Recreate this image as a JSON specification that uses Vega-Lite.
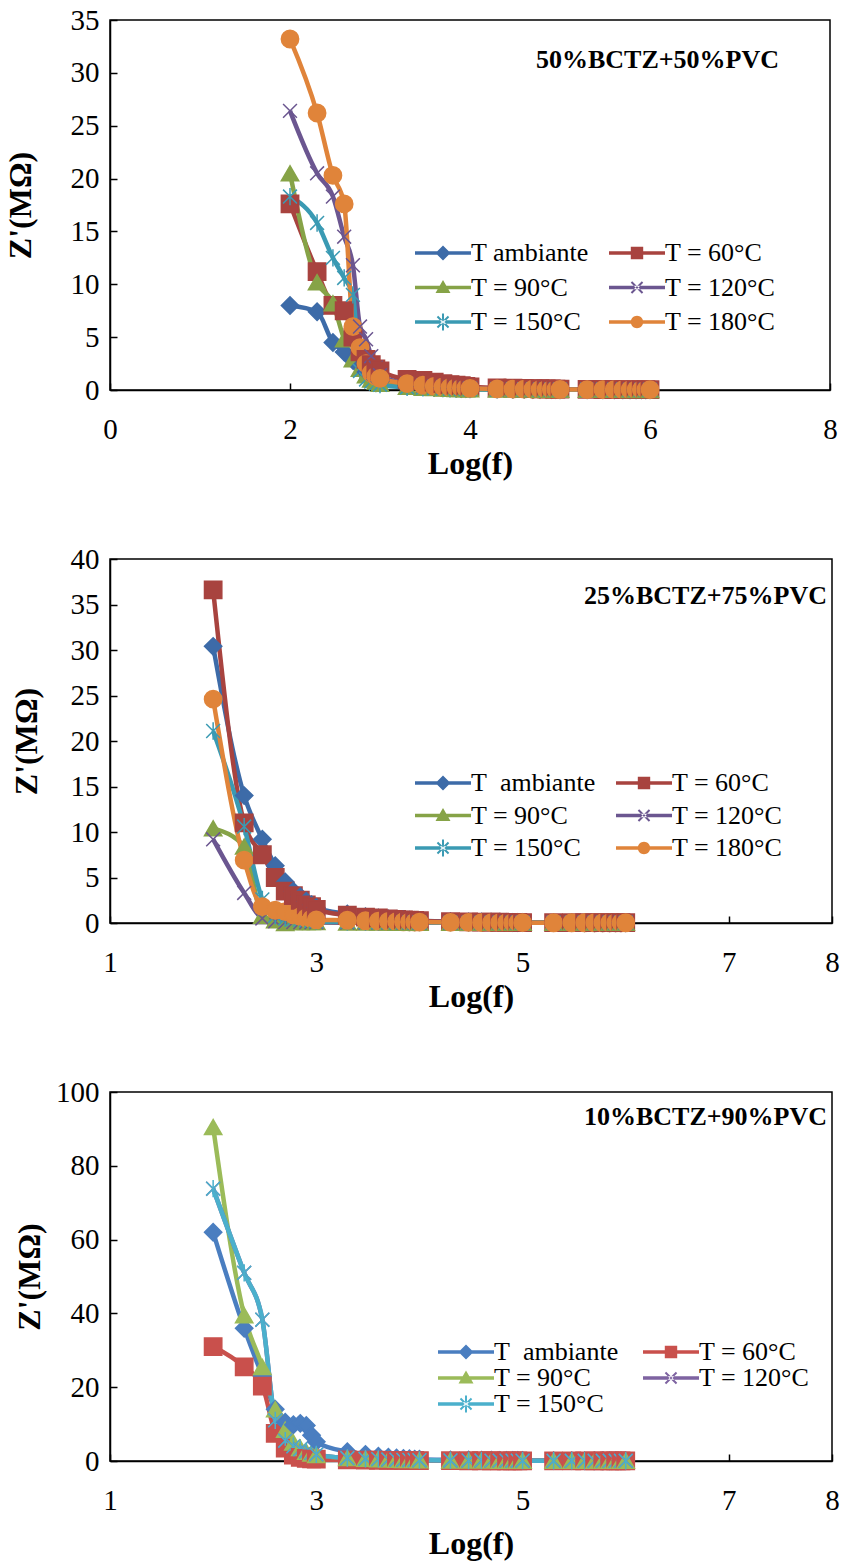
{
"$schema": "https://vega.github.io/schema/vega-lite/v6.json",
"padding": {"left": 3, "top": 5, "right": 2, "bottom": 5},
"background": "white",
"bounds": "flush",
"spacing": 169,
"config": {
  "font": "Liberation Serif",
  "view": {"stroke": "black", "strokeWidth": 1.5},
  "axis": {"labelFont": "Liberation Serif", "labelFontSize": 29, "labelColor": "black", "titleFont": "Liberation Serif", "titleFontSize": 32, "titleFontWeight": "bold", "titleColor": "black", "domainColor": "black", "domainWidth": 1.5, "tickColor": "black", "tickWidth": 1.5, "tickSize": -7, "grid": false, "labelFlush": false, "labelOverlap": false},
  "axisX": {"labelPadding": 32},
  "axisY": {"labelPadding": 18},
  "title": {"font": "Liberation Serif", "fontSize": 26, "fontWeight": "bold", "color": "black"},
  "legend": {"labelFont": "Liberation Serif", "labelFontSize": 26, "labelColor": "black", "symbolSize": 400, "symbolStrokeWidth": 0, "symbolOpacity": 1, "symbolOffset": 18, "title": null, "padding": 0, "labelOffset": 15, "orient": "none", "columns": 2}
},
"datasets": {
"p1": [
{"f":2,"T ambiante":8.0,"T = 60°C":17.6,"T = 90°C":20.5,"T = 120°C":26.4,"T = 150°C":18.3,"T = 180°C":33.2},
{"f":2.301,"T ambiante":7.4,"T = 60°C":11.2,"T = 90°C":10.2,"T = 120°C":20.5,"T = 150°C":15.8,"T = 180°C":26.2},
{"f":2.477,"T ambiante":4.5,"T = 60°C":8.0,"T = 90°C":8.2,"T = 120°C":18.3,"T = 150°C":12.5,"T = 180°C":20.3},
{"f":2.602,"T ambiante":3.6,"T = 60°C":7.5,"T = 90°C":4.8,"T = 120°C":14.5,"T = 150°C":10.6,"T = 180°C":17.6},
{"f":2.699,"T ambiante":2.8,"T = 60°C":5.0,"T = 90°C":2.9,"T = 120°C":11.8,"T = 150°C":9.0,"T = 180°C":6.0},
{"f":2.778,"T ambiante":2.2,"T = 60°C":3.6,"T = 90°C":2.0,"T = 120°C":6.0,"T = 150°C":1.8,"T = 180°C":4.0},
{"f":2.845,"T ambiante":1.7,"T = 60°C":2.9,"T = 90°C":1.4,"T = 120°C":4.8,"T = 150°C":1.0,"T = 180°C":2.5},
{"f":2.903,"T ambiante":1.3,"T = 60°C":2.4,"T = 90°C":1.0,"T = 120°C":3.2,"T = 150°C":0.8,"T = 180°C":1.6},
{"f":2.954,"T ambiante":1.0,"T = 60°C":2.0,"T = 90°C":0.8,"T = 120°C":2.1,"T = 150°C":0.6,"T = 180°C":1.3},
{"f":3,"T ambiante":0.8,"T = 60°C":1.8,"T = 90°C":0.6,"T = 120°C":1.4,"T = 150°C":0.5,"T = 180°C":1.1},
{"f":3.301,"T ambiante":0.45,"T = 60°C":1.0,"T = 90°C":0.3,"T = 120°C":0.6,"T = 150°C":0.25,"T = 180°C":0.6},
{"f":3.477,"T ambiante":0.35,"T = 60°C":0.9,"T = 90°C":0.22,"T = 120°C":0.45,"T = 150°C":0.2,"T = 180°C":0.45},
{"f":3.602,"T ambiante":0.28,"T = 60°C":0.75,"T = 90°C":0.18,"T = 120°C":0.35,"T = 150°C":0.16,"T = 180°C":0.35},
{"f":3.699,"T ambiante":0.23,"T = 60°C":0.6,"T = 90°C":0.15,"T = 120°C":0.3,"T = 150°C":0.13,"T = 180°C":0.3},
{"f":3.778,"T ambiante":0.2,"T = 60°C":0.5,"T = 90°C":0.12,"T = 120°C":0.25,"T = 150°C":0.11,"T = 180°C":0.25},
{"f":3.845,"T ambiante":0.17,"T = 60°C":0.45,"T = 90°C":0.1,"T = 120°C":0.22,"T = 150°C":0.1,"T = 180°C":0.22},
{"f":3.903,"T ambiante":0.15,"T = 60°C":0.4,"T = 90°C":0.09,"T = 120°C":0.2,"T = 150°C":0.09,"T = 180°C":0.2},
{"f":3.954,"T ambiante":0.13,"T = 60°C":0.35,"T = 90°C":0.08,"T = 120°C":0.18,"T = 150°C":0.08,"T = 180°C":0.18},
{"f":4,"T ambiante":0.12,"T = 60°C":0.3,"T = 90°C":0.07,"T = 120°C":0.16,"T = 150°C":0.07,"T = 180°C":0.16},
{"f":4.301,"T ambiante":0.08,"T = 60°C":0.2,"T = 90°C":0.05,"T = 120°C":0.1,"T = 150°C":0.05,"T = 180°C":0.1},
{"f":4.477,"T ambiante":0.07,"T = 60°C":0.17,"T = 90°C":0.05,"T = 120°C":0.09,"T = 150°C":0.05,"T = 180°C":0.09},
{"f":4.602,"T ambiante":0.06,"T = 60°C":0.15,"T = 90°C":0.04,"T = 120°C":0.08,"T = 150°C":0.04,"T = 180°C":0.08},
{"f":4.699,"T ambiante":0.05,"T = 60°C":0.13,"T = 90°C":0.04,"T = 120°C":0.07,"T = 150°C":0.04,"T = 180°C":0.07},
{"f":4.778,"T ambiante":0.05,"T = 60°C":0.12,"T = 90°C":0.03,"T = 120°C":0.06,"T = 150°C":0.03,"T = 180°C":0.06},
{"f":4.845,"T ambiante":0.04,"T = 60°C":0.11,"T = 90°C":0.03,"T = 120°C":0.06,"T = 150°C":0.03,"T = 180°C":0.06},
{"f":4.903,"T ambiante":0.04,"T = 60°C":0.1,"T = 90°C":0.03,"T = 120°C":0.05,"T = 150°C":0.03,"T = 180°C":0.05},
{"f":4.954,"T ambiante":0.04,"T = 60°C":0.09,"T = 90°C":0.03,"T = 120°C":0.05,"T = 150°C":0.03,"T = 180°C":0.05},
{"f":5,"T ambiante":0.03,"T = 60°C":0.08,"T = 90°C":0.02,"T = 120°C":0.05,"T = 150°C":0.02,"T = 180°C":0.05},
{"f":5.301,"T ambiante":0.03,"T = 60°C":0.06,"T = 90°C":0.02,"T = 120°C":0.04,"T = 150°C":0.02,"T = 180°C":0.04},
{"f":5.477,"T ambiante":0.02,"T = 60°C":0.05,"T = 90°C":0.02,"T = 120°C":0.04,"T = 150°C":0.02,"T = 180°C":0.04},
{"f":5.602,"T ambiante":0.02,"T = 60°C":0.05,"T = 90°C":0.02,"T = 120°C":0.03,"T = 150°C":0.02,"T = 180°C":0.03},
{"f":5.699,"T ambiante":0.02,"T = 60°C":0.04,"T = 90°C":0.02,"T = 120°C":0.03,"T = 150°C":0.02,"T = 180°C":0.03},
{"f":5.778,"T ambiante":0.02,"T = 60°C":0.04,"T = 90°C":0.01,"T = 120°C":0.03,"T = 150°C":0.01,"T = 180°C":0.03},
{"f":5.845,"T ambiante":0.01,"T = 60°C":0.03,"T = 90°C":0.01,"T = 120°C":0.03,"T = 150°C":0.01,"T = 180°C":0.03},
{"f":5.903,"T ambiante":0.01,"T = 60°C":0.03,"T = 90°C":0.01,"T = 120°C":0.03,"T = 150°C":0.01,"T = 180°C":0.03},
{"f":5.954,"T ambiante":0.01,"T = 60°C":0.03,"T = 90°C":0.01,"T = 120°C":0.03,"T = 150°C":0.01,"T = 180°C":0.03},
{"f":6,"T ambiante":0.01,"T = 60°C":0.03,"T = 90°C":0.01,"T = 120°C":0.03,"T = 150°C":0.01,"T = 180°C":0.03}
],
"p2": [
{"f":2,"T ambiante":30.4,"T = 60°C":36.6,"T = 90°C":10.4,"T = 120°C":9.2,"T = 150°C":21.1,"T = 180°C":24.6},
{"f":2.301,"T ambiante":14.0,"T = 60°C":11.0,"T = 90°C":8.4,"T = 120°C":3.3,"T = 150°C":10.6,"T = 180°C":6.9},
{"f":2.477,"T ambiante":9.2,"T = 60°C":7.5,"T = 90°C":0.8,"T = 120°C":0.5,"T = 150°C":2.6,"T = 180°C":1.8},
{"f":2.602,"T ambiante":6.3,"T = 60°C":5.0,"T = 90°C":0.3,"T = 120°C":0.2,"T = 150°C":0.8,"T = 180°C":1.4},
{"f":2.699,"T ambiante":4.5,"T = 60°C":3.5,"T = 90°C":0.0,"T = 120°C":0.1,"T = 150°C":0.5,"T = 180°C":1.25},
{"f":2.778,"T ambiante":3.5,"T = 60°C":3.0,"T = 90°C":0.1,"T = 120°C":0.1,"T = 150°C":0.4,"T = 180°C":0.9},
{"f":2.845,"T ambiante":2.9,"T = 60°C":2.5,"T = 90°C":0.1,"T = 120°C":0.08,"T = 150°C":0.35,"T = 180°C":0.7},
{"f":2.903,"T ambiante":2.4,"T = 60°C":2.0,"T = 90°C":0.1,"T = 120°C":0.08,"T = 150°C":0.3,"T = 180°C":0.55},
{"f":2.954,"T ambiante":2.0,"T = 60°C":1.8,"T = 90°C":0.1,"T = 120°C":0.07,"T = 150°C":0.25,"T = 180°C":0.45},
{"f":3,"T ambiante":1.7,"T = 60°C":1.5,"T = 90°C":0.1,"T = 120°C":0.07,"T = 150°C":0.2,"T = 180°C":0.35},
{"f":3.301,"T ambiante":1.0,"T = 60°C":0.85,"T = 90°C":0.05,"T = 120°C":0.05,"T = 150°C":0.12,"T = 180°C":0.3},
{"f":3.477,"T ambiante":0.7,"T = 60°C":0.65,"T = 90°C":0.05,"T = 120°C":0.05,"T = 150°C":0.1,"T = 180°C":0.25},
{"f":3.602,"T ambiante":0.55,"T = 60°C":0.55,"T = 90°C":0.05,"T = 120°C":0.05,"T = 150°C":0.08,"T = 180°C":0.2},
{"f":3.699,"T ambiante":0.45,"T = 60°C":0.45,"T = 90°C":0.05,"T = 120°C":0.04,"T = 150°C":0.07,"T = 180°C":0.18},
{"f":3.778,"T ambiante":0.4,"T = 60°C":0.4,"T = 90°C":0.04,"T = 120°C":0.04,"T = 150°C":0.06,"T = 180°C":0.16},
{"f":3.845,"T ambiante":0.35,"T = 60°C":0.35,"T = 90°C":0.04,"T = 120°C":0.04,"T = 150°C":0.06,"T = 180°C":0.14},
{"f":3.903,"T ambiante":0.3,"T = 60°C":0.3,"T = 90°C":0.04,"T = 120°C":0.04,"T = 150°C":0.05,"T = 180°C":0.12},
{"f":3.954,"T ambiante":0.27,"T = 60°C":0.28,"T = 90°C":0.04,"T = 120°C":0.04,"T = 150°C":0.05,"T = 180°C":0.1},
{"f":4,"T ambiante":0.25,"T = 60°C":0.25,"T = 90°C":0.04,"T = 120°C":0.03,"T = 150°C":0.05,"T = 180°C":0.1},
{"f":4.301,"T ambiante":0.15,"T = 60°C":0.15,"T = 90°C":0.03,"T = 120°C":0.03,"T = 150°C":0.04,"T = 180°C":0.07},
{"f":4.477,"T ambiante":0.12,"T = 60°C":0.12,"T = 90°C":0.03,"T = 120°C":0.03,"T = 150°C":0.04,"T = 180°C":0.06},
{"f":4.602,"T ambiante":0.1,"T = 60°C":0.1,"T = 90°C":0.03,"T = 120°C":0.03,"T = 150°C":0.03,"T = 180°C":0.05},
{"f":4.699,"T ambiante":0.09,"T = 60°C":0.09,"T = 90°C":0.03,"T = 120°C":0.03,"T = 150°C":0.03,"T = 180°C":0.05},
{"f":4.778,"T ambiante":0.08,"T = 60°C":0.08,"T = 90°C":0.03,"T = 120°C":0.03,"T = 150°C":0.03,"T = 180°C":0.04},
{"f":4.845,"T ambiante":0.07,"T = 60°C":0.07,"T = 90°C":0.03,"T = 120°C":0.03,"T = 150°C":0.03,"T = 180°C":0.04},
{"f":4.903,"T ambiante":0.06,"T = 60°C":0.06,"T = 90°C":0.03,"T = 120°C":0.03,"T = 150°C":0.03,"T = 180°C":0.04},
{"f":4.954,"T ambiante":0.06,"T = 60°C":0.06,"T = 90°C":0.03,"T = 120°C":0.03,"T = 150°C":0.03,"T = 180°C":0.04},
{"f":5,"T ambiante":0.05,"T = 60°C":0.05,"T = 90°C":0.03,"T = 120°C":0.03,"T = 150°C":0.03,"T = 180°C":0.04},
{"f":5.301,"T ambiante":0.04,"T = 60°C":0.04,"T = 90°C":0.03,"T = 120°C":0.03,"T = 150°C":0.03,"T = 180°C":0.03},
{"f":5.477,"T ambiante":0.04,"T = 60°C":0.04,"T = 90°C":0.03,"T = 120°C":0.03,"T = 150°C":0.03,"T = 180°C":0.03},
{"f":5.602,"T ambiante":0.03,"T = 60°C":0.04,"T = 90°C":0.03,"T = 120°C":0.03,"T = 150°C":0.03,"T = 180°C":0.03},
{"f":5.699,"T ambiante":0.03,"T = 60°C":0.04,"T = 90°C":0.03,"T = 120°C":0.03,"T = 150°C":0.03,"T = 180°C":0.03},
{"f":5.778,"T ambiante":0.03,"T = 60°C":0.04,"T = 90°C":0.03,"T = 120°C":0.03,"T = 150°C":0.03,"T = 180°C":0.03},
{"f":5.845,"T ambiante":0.03,"T = 60°C":0.04,"T = 90°C":0.03,"T = 120°C":0.03,"T = 150°C":0.03,"T = 180°C":0.03},
{"f":5.903,"T ambiante":0.03,"T = 60°C":0.04,"T = 90°C":0.03,"T = 120°C":0.03,"T = 150°C":0.03,"T = 180°C":0.03},
{"f":5.954,"T ambiante":0.03,"T = 60°C":0.04,"T = 90°C":0.03,"T = 120°C":0.03,"T = 150°C":0.03,"T = 180°C":0.03},
{"f":6,"T ambiante":0.03,"T = 60°C":0.04,"T = 90°C":0.03,"T = 120°C":0.03,"T = 150°C":0.03,"T = 180°C":0.03}
],
"p3": [
{"f":2,"T ambiante":62,"T = 60°C":31,"T = 90°C":90.5,"T = 120°C":73.8,"T = 150°C":73.8},
{"f":2.301,"T ambiante":36,"T = 60°C":25.5,"T = 90°C":39.5,"T = 120°C":51,"T = 150°C":51},
{"f":2.477,"T ambiante":23,"T = 60°C":20.3,"T = 90°C":25.5,"T = 120°C":38.3,"T = 150°C":38.3},
{"f":2.602,"T ambiante":14,"T = 60°C":7.5,"T = 90°C":14,"T = 120°C":11,"T = 150°C":11},
{"f":2.699,"T ambiante":10.5,"T = 60°C":3.5,"T = 90°C":8.5,"T = 120°C":5.5,"T = 150°C":5.5},
{"f":2.778,"T ambiante":9.8,"T = 60°C":1.6,"T = 90°C":5.0,"T = 120°C":4.0,"T = 150°C":4.0},
{"f":2.845,"T ambiante":10.2,"T = 60°C":1.0,"T = 90°C":3.5,"T = 120°C":3.2,"T = 150°C":3.2},
{"f":2.903,"T ambiante":9.6,"T = 60°C":0.7,"T = 90°C":2.5,"T = 120°C":2.6,"T = 150°C":2.6},
{"f":2.954,"T ambiante":7.0,"T = 60°C":0.6,"T = 90°C":2.0,"T = 120°C":2.2,"T = 150°C":2.2},
{"f":3,"T ambiante":5.2,"T = 60°C":0.5,"T = 90°C":1.6,"T = 120°C":1.8,"T = 150°C":1.8},
{"f":3.301,"T ambiante":2.5,"T = 60°C":0.3,"T = 90°C":0.8,"T = 120°C":0.8,"T = 150°C":0.8},
{"f":3.477,"T ambiante":1.8,"T = 60°C":0.25,"T = 90°C":0.6,"T = 120°C":0.6,"T = 150°C":0.6},
{"f":3.602,"T ambiante":1.3,"T = 60°C":0.2,"T = 90°C":0.5,"T = 120°C":0.5,"T = 150°C":0.5},
{"f":3.699,"T ambiante":1.0,"T = 60°C":0.18,"T = 90°C":0.4,"T = 120°C":0.4,"T = 150°C":0.4},
{"f":3.778,"T ambiante":0.8,"T = 60°C":0.16,"T = 90°C":0.35,"T = 120°C":0.35,"T = 150°C":0.35},
{"f":3.845,"T ambiante":0.7,"T = 60°C":0.15,"T = 90°C":0.3,"T = 120°C":0.3,"T = 150°C":0.3},
{"f":3.903,"T ambiante":0.6,"T = 60°C":0.14,"T = 90°C":0.28,"T = 120°C":0.28,"T = 150°C":0.28},
{"f":3.954,"T ambiante":0.5,"T = 60°C":0.13,"T = 90°C":0.25,"T = 120°C":0.25,"T = 150°C":0.25},
{"f":4,"T ambiante":0.45,"T = 60°C":0.12,"T = 90°C":0.22,"T = 120°C":0.22,"T = 150°C":0.22},
{"f":4.301,"T ambiante":0.3,"T = 60°C":0.08,"T = 90°C":0.15,"T = 120°C":0.15,"T = 150°C":0.15},
{"f":4.477,"T ambiante":0.25,"T = 60°C":0.07,"T = 90°C":0.13,"T = 120°C":0.13,"T = 150°C":0.13},
{"f":4.602,"T ambiante":0.2,"T = 60°C":0.06,"T = 90°C":0.12,"T = 120°C":0.12,"T = 150°C":0.12},
{"f":4.699,"T ambiante":0.18,"T = 60°C":0.06,"T = 90°C":0.11,"T = 120°C":0.11,"T = 150°C":0.11},
{"f":4.778,"T ambiante":0.16,"T = 60°C":0.05,"T = 90°C":0.1,"T = 120°C":0.1,"T = 150°C":0.1},
{"f":4.845,"T ambiante":0.15,"T = 60°C":0.05,"T = 90°C":0.1,"T = 120°C":0.1,"T = 150°C":0.1},
{"f":4.903,"T ambiante":0.14,"T = 60°C":0.05,"T = 90°C":0.09,"T = 120°C":0.09,"T = 150°C":0.09},
{"f":4.954,"T ambiante":0.13,"T = 60°C":0.05,"T = 90°C":0.09,"T = 120°C":0.09,"T = 150°C":0.09},
{"f":5,"T ambiante":0.12,"T = 60°C":0.04,"T = 90°C":0.08,"T = 120°C":0.08,"T = 150°C":0.08},
{"f":5.301,"T ambiante":0.1,"T = 60°C":0.04,"T = 90°C":0.06,"T = 120°C":0.06,"T = 150°C":0.06},
{"f":5.477,"T ambiante":0.1,"T = 60°C":0.04,"T = 90°C":0.06,"T = 120°C":0.06,"T = 150°C":0.06},
{"f":5.602,"T ambiante":0.09,"T = 60°C":0.04,"T = 90°C":0.05,"T = 120°C":0.05,"T = 150°C":0.05},
{"f":5.699,"T ambiante":0.09,"T = 60°C":0.03,"T = 90°C":0.05,"T = 120°C":0.05,"T = 150°C":0.05},
{"f":5.778,"T ambiante":0.08,"T = 60°C":0.03,"T = 90°C":0.05,"T = 120°C":0.05,"T = 150°C":0.05},
{"f":5.845,"T ambiante":0.08,"T = 60°C":0.03,"T = 90°C":0.05,"T = 120°C":0.05,"T = 150°C":0.05},
{"f":5.903,"T ambiante":0.08,"T = 60°C":0.03,"T = 90°C":0.05,"T = 120°C":0.05,"T = 150°C":0.05},
{"f":5.954,"T ambiante":0.08,"T = 60°C":0.03,"T = 90°C":0.05,"T = 120°C":0.05,"T = 150°C":0.05},
{"f":6,"T ambiante":0.08,"T = 60°C":0.03,"T = 90°C":0.05,"T = 120°C":0.05,"T = 150°C":0.05}
]
},
"resolve": {"scale": {"color": "independent", "shape": "independent", "stroke": "independent"}, "legend": {"color": "independent", "shape": "independent", "stroke": "independent"}},
"vconcat": [
{
  "width": 720, "height": 370,
  "data": {"name": "p1"},
  "transform": [{"fold": ["T ambiante", "T = 60°C", "T = 90°C", "T = 120°C", "T = 150°C", "T = 180°C"], "as": ["s", "z"]}],
  "title": {"text": "50%BCTZ+50%PVC", "anchor": "end", "frame": "group", "orient": "top", "offset": 0, "baseline": "middle", "dy": 80, "dx": -51},
  "encoding": {
    "x": {"field": "f", "type": "quantitative", "scale": {"domain": [0, 8], "nice": false, "zero": false}, "axis": {"title": "Log(f)", "values": [0, 2, 4, 6, 8]}},
    "y": {"field": "z", "type": "quantitative", "scale": {"domain": [0, 35], "nice": false}, "axis": {"title": "Z'(MΩ)", "values": [0, 5, 10, 15, 20, 25, 30, 35], "titlePadding": 33}}
  },
  "resolve": {"scale": {"color": "independent", "shape": "independent", "stroke": "independent"}, "legend": {"color": "independent", "shape": "independent", "stroke": "independent"}},
  "layer": [
    {"mark": {"type": "line", "strokeWidth": 4.5, "interpolate": "monotone", "clip": false},
     "encoding": {"color": {"field": "s", "type": "nominal", "scale": {"domain": ["T ambiante", "T = 60°C", "T = 90°C", "T = 120°C", "T = 150°C", "T = 180°C"], "range": ["#3D6BA8", "#A8433F", "#86A347", "#6B5690", "#3A9AB3", "#E0843A"]}, "legend": null}}},
    {"mark": {"type": "point", "filled": true, "size": 300, "opacity": 1, "strokeWidth": 1.5, "clip": false},
     "encoding": {
       "color": {"field": "s", "type": "nominal", "scale": {"domain": ["T ambiante", "T = 60°C", "T = 90°C", "T = 120°C", "T = 150°C", "T = 180°C"], "range": ["#3D6BA8", "#A8433F", "#86A347", "#6B5690", "#3A9AB3", "#E0843A"]}, "legend": null},
       "shape": {"field": "s", "type": "nominal", "scale": {"domain": ["T ambiante", "T = 60°C", "T = 90°C", "T = 120°C", "T = 150°C", "T = 180°C"], "range": ["diamond", "square", "triangle-up", "M-0.8,-0.8L0.8,0.8M-0.8,0.8L0.8,-0.8", "M-0.8,-0.8L0.8,0.8M-0.8,0.8L0.8,-0.8M0,-1L0,1", "circle"]}, "legend": null},
       "stroke": {"field": "s", "type": "nominal", "scale": {"domain": ["T ambiante", "T = 60°C", "T = 90°C", "T = 120°C", "T = 150°C", "T = 180°C"], "range": ["#3D6BA8", "#A8433F", "#86A347", "#6B5690", "#3A9AB3", "#E0843A"]}, "legend": null}
     }},
    {"transform": [{"filter": "false"}],
     "mark": {"type": "point", "filled": true, "size": 400, "opacity": 1, "strokeWidth": 0},
     "encoding": {
       "color": {"field": "s", "type": "nominal", "scale": {"domain": ["T ambiante", "T = 90°C", "T = 150°C", "T = 60°C", "T = 120°C", "T = 180°C"], "range": ["#3D6BA8", "#86A347", "#3A9AB3", "#A8433F", "#6B5690", "#E0843A"]},
         "legend": {"orient": "none", "legendX": 302, "legendY": 220, "columns": 2, "rowPadding": 8.5, "columnPadding": 17}},
       "shape": {"field": "s", "type": "nominal", "scale": {"domain": ["T ambiante", "T = 90°C", "T = 150°C", "T = 60°C", "T = 120°C", "T = 180°C"], "range": [
         "M-2.8,-0.18H2.8V0.18H-2.8Z M0,-0.75L0.75,0L0,0.75L-0.75,0Z",
         "M-2.8,-0.18H2.8V0.18H-2.8Z M0,-0.75L0.75,0.55L-0.75,0.55Z",
         "M-2.8,-0.18H2.8V0.18H-2.8Z M0.624,0.484L-0.484,-0.624L-0.624,-0.484L0.484,0.624Z M0.484,-0.624L-0.624,0.484L-0.484,0.624L0.624,-0.484Z M-0.098,-0.84H0.098V0.84H-0.098Z",
         "M-2.8,-0.18H2.8V0.18H-2.8Z M-0.62,-0.62H0.62V0.62H-0.62Z",
         "M-2.8,-0.18H2.8V0.18H-2.8Z M0.624,0.484L-0.484,-0.624L-0.624,-0.484L0.484,0.624Z M0.484,-0.624L-0.624,0.484L-0.484,0.624L0.624,-0.484Z",
         "M-2.8,-0.18H2.8V0.18H-2.8Z M0.62,0A0.62,0.62 0 1,1 -0.62,0A0.62,0.62 0 1,1 0.62,0Z"]}}
     }}
  ]
},
{
  "width": 722, "height": 364,
  "data": {"name": "p2"},
  "transform": [{"fold": ["T ambiante", "T = 60°C", "T = 90°C", "T = 120°C", "T = 150°C", "T = 180°C"], "as": ["s", "z"]}],
  "title": {"text": "25%BCTZ+75%PVC", "anchor": "end", "frame": "group", "orient": "top", "offset": 0, "baseline": "middle", "dy": 77, "dx": -5},
  "encoding": {
    "x": {"field": "f", "type": "quantitative", "scale": {"domain": [1, 8], "nice": false, "zero": false}, "axis": {"title": "Log(f)", "values": [1, 3, 5, 7, 8]}},
    "y": {"field": "z", "type": "quantitative", "scale": {"domain": [0, 40], "nice": false}, "axis": {"title": "Z'(MΩ)", "values": [0, 5, 10, 15, 20, 25, 30, 35, 40], "titlePadding": 27}}
  },
  "resolve": {"scale": {"color": "independent", "shape": "independent", "stroke": "independent"}, "legend": {"color": "independent", "shape": "independent", "stroke": "independent"}},
  "layer": [
    {"mark": {"type": "line", "strokeWidth": 4.5, "interpolate": "monotone", "clip": false},
     "encoding": {"color": {"field": "s", "type": "nominal", "scale": {"domain": ["T ambiante", "T = 60°C", "T = 90°C", "T = 120°C", "T = 150°C", "T = 180°C"], "range": ["#3D6BA8", "#A8433F", "#86A347", "#6B5690", "#3A9AB3", "#E0843A"]}, "legend": null}}},
    {"mark": {"type": "point", "filled": true, "size": 300, "opacity": 1, "strokeWidth": 1.5, "clip": false},
     "encoding": {
       "color": {"field": "s", "type": "nominal", "scale": {"domain": ["T ambiante", "T = 60°C", "T = 90°C", "T = 120°C", "T = 150°C", "T = 180°C"], "range": ["#3D6BA8", "#A8433F", "#86A347", "#6B5690", "#3A9AB3", "#E0843A"]}, "legend": null},
       "shape": {"field": "s", "type": "nominal", "scale": {"domain": ["T ambiante", "T = 60°C", "T = 90°C", "T = 120°C", "T = 150°C", "T = 180°C"], "range": ["diamond", "square", "triangle-up", "M-0.8,-0.8L0.8,0.8M-0.8,0.8L0.8,-0.8", "M-0.8,-0.8L0.8,0.8M-0.8,0.8L0.8,-0.8M0,-1L0,1", "circle"]}, "legend": null},
       "stroke": {"field": "s", "type": "nominal", "scale": {"domain": ["T ambiante", "T = 60°C", "T = 90°C", "T = 120°C", "T = 150°C", "T = 180°C"], "range": ["#3D6BA8", "#A8433F", "#86A347", "#6B5690", "#3A9AB3", "#E0843A"]}, "legend": null}
     }},
    {"transform": [{"filter": "false"}],
     "mark": {"type": "point", "filled": true, "size": 400, "opacity": 1, "strokeWidth": 0},
     "encoding": {
       "color": {"field": "s", "type": "nominal", "scale": {"domain": ["T ambiante", "T = 90°C", "T = 150°C", "T = 60°C", "T = 120°C", "T = 180°C"], "range": ["#3D6BA8", "#86A347", "#3A9AB3", "#A8433F", "#6B5690", "#E0843A"]},
         "legend": {"orient": "none", "legendX": 302, "legendY": 211, "columns": 2, "rowPadding": 6.5, "columnPadding": 17, "labelExpr": "datum.label === 'T ambiante' ? 'T\u00a0\u00a0ambiante' : datum.label"}},
       "shape": {"field": "s", "type": "nominal", "scale": {"domain": ["T ambiante", "T = 90°C", "T = 150°C", "T = 60°C", "T = 120°C", "T = 180°C"], "range": [
         "M-2.8,-0.18H2.8V0.18H-2.8Z M0,-0.75L0.75,0L0,0.75L-0.75,0Z",
         "M-2.8,-0.18H2.8V0.18H-2.8Z M0,-0.75L0.75,0.55L-0.75,0.55Z",
         "M-2.8,-0.18H2.8V0.18H-2.8Z M0.624,0.484L-0.484,-0.624L-0.624,-0.484L0.484,0.624Z M0.484,-0.624L-0.624,0.484L-0.484,0.624L0.624,-0.484Z M-0.098,-0.84H0.098V0.84H-0.098Z",
         "M-2.8,-0.18H2.8V0.18H-2.8Z M-0.62,-0.62H0.62V0.62H-0.62Z",
         "M-2.8,-0.18H2.8V0.18H-2.8Z M0.624,0.484L-0.484,-0.624L-0.624,-0.484L0.484,0.624Z M0.484,-0.624L-0.624,0.484L-0.484,0.624L0.624,-0.484Z",
         "M-2.8,-0.18H2.8V0.18H-2.8Z M0.62,0A0.62,0.62 0 1,1 -0.62,0A0.62,0.62 0 1,1 0.62,0Z"]}}
     }}
  ]
},
{
  "width": 722, "height": 369,
  "data": {"name": "p3"},
  "transform": [{"fold": ["T ambiante", "T = 60°C", "T = 90°C", "T = 120°C", "T = 150°C"], "as": ["s", "z"]}],
  "title": {"text": "10%BCTZ+90%PVC", "anchor": "end", "frame": "group", "orient": "top", "offset": 0, "baseline": "middle", "dy": 65, "dx": -5},
  "encoding": {
    "x": {"field": "f", "type": "quantitative", "scale": {"domain": [1, 8], "nice": false, "zero": false}, "axis": {"title": "Log(f)", "values": [1, 3, 5, 7, 8], "titlePadding": 13}},
    "y": {"field": "z", "type": "quantitative", "scale": {"domain": [0, 100], "nice": false}, "axis": {"title": "Z'(MΩ)", "values": [0, 20, 40, 60, 80, 100], "titlePadding": 9}}
  },
  "resolve": {"scale": {"color": "independent", "shape": "independent", "stroke": "independent"}, "legend": {"color": "independent", "shape": "independent", "stroke": "independent"}},
  "layer": [
    {"mark": {"type": "line", "strokeWidth": 4.5, "interpolate": "monotone", "clip": false},
     "encoding": {"color": {"field": "s", "type": "nominal", "scale": {"domain": ["T ambiante", "T = 60°C", "T = 90°C", "T = 120°C", "T = 150°C"], "range": ["#4A7EC0", "#C9504C", "#9BBB59", "#7E63A1", "#4BB0CC"]}, "legend": null}}},
    {"mark": {"type": "point", "filled": true, "size": 300, "opacity": 1, "strokeWidth": 1.5, "clip": false},
     "encoding": {
       "color": {"field": "s", "type": "nominal", "scale": {"domain": ["T ambiante", "T = 60°C", "T = 90°C", "T = 120°C", "T = 150°C"], "range": ["#4A7EC0", "#C9504C", "#9BBB59", "#7E63A1", "#4BB0CC"]}, "legend": null},
       "shape": {"field": "s", "type": "nominal", "scale": {"domain": ["T ambiante", "T = 60°C", "T = 90°C", "T = 120°C", "T = 150°C"], "range": ["diamond", "square", "triangle-up", "M-0.8,-0.8L0.8,0.8M-0.8,0.8L0.8,-0.8", "M-0.8,-0.8L0.8,0.8M-0.8,0.8L0.8,-0.8M0,-1L0,1"]}, "legend": null},
       "stroke": {"field": "s", "type": "nominal", "scale": {"domain": ["T ambiante", "T = 60°C", "T = 90°C", "T = 120°C", "T = 150°C"], "range": ["#4A7EC0", "#C9504C", "#9BBB59", "#7E63A1", "#4BB0CC"]}, "legend": null}
     }},
    {"transform": [{"filter": "false"}],
     "mark": {"type": "point", "filled": true, "size": 400, "opacity": 1, "strokeWidth": 0},
     "encoding": {
       "color": {"field": "s", "type": "nominal", "scale": {"domain": ["T ambiante", "T = 90°C", "T = 150°C", "T = 60°C", "T = 120°C"], "range": ["#4A7EC0", "#9BBB59", "#4BB0CC", "#C9504C", "#7E63A1"]},
         "legend": {"orient": "none", "legendX": 325, "legendY": 247, "columns": 2, "rowPadding": 0, "columnPadding": 21, "labelExpr": "datum.label === 'T ambiante' ? 'T\u00a0\u00a0ambiante' : datum.label"}},
       "shape": {"field": "s", "type": "nominal", "scale": {"domain": ["T ambiante", "T = 90°C", "T = 150°C", "T = 60°C", "T = 120°C"], "range": [
         "M-2.8,-0.18H2.8V0.18H-2.8Z M0,-0.75L0.75,0L0,0.75L-0.75,0Z",
         "M-2.8,-0.18H2.8V0.18H-2.8Z M0,-0.75L0.75,0.55L-0.75,0.55Z",
         "M-2.8,-0.18H2.8V0.18H-2.8Z M0.624,0.484L-0.484,-0.624L-0.624,-0.484L0.484,0.624Z M0.484,-0.624L-0.624,0.484L-0.484,0.624L0.624,-0.484Z M-0.098,-0.84H0.098V0.84H-0.098Z",
         "M-2.8,-0.18H2.8V0.18H-2.8Z M-0.62,-0.62H0.62V0.62H-0.62Z",
         "M-2.8,-0.18H2.8V0.18H-2.8Z M0.624,0.484L-0.484,-0.624L-0.624,-0.484L0.484,0.624Z M0.484,-0.624L-0.624,0.484L-0.484,0.624L0.624,-0.484Z"]}}
     }}
  ]
}
]
}
